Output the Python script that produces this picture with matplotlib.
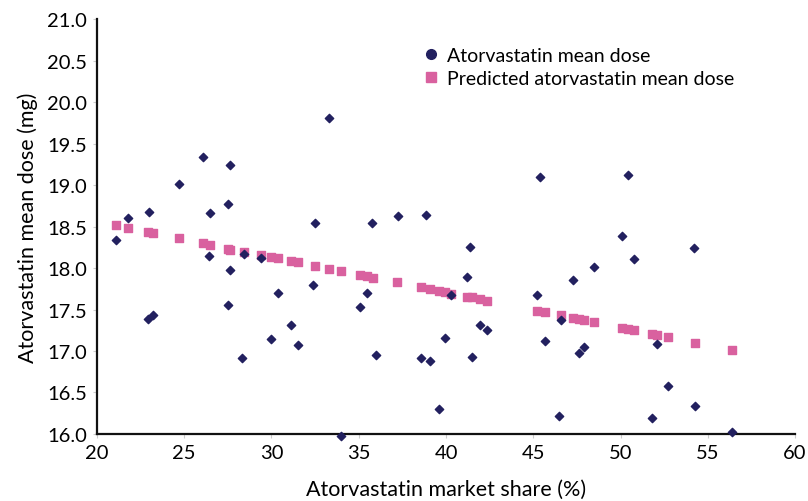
import matplotlib
matplotlib.use("Agg")
from matplotlib import pyplot as plt
from matplotlib.lines import Line2D

plt.rcParams['font.family'] = ['Lato', 'DejaVu Sans']

# observed atorvastatin mean dose vs market share
share = [21.1, 21.8, 22.9, 23.2, 23.0, 24.7, 26.1, 26.5, 26.4, 27.5,
         27.6, 27.6, 27.5, 28.4, 29.4, 30.0, 30.4, 31.1, 31.5, 32.4,
         32.5, 33.3, 28.3, 34.0, 35.06, 35.46, 35.75, 35.98, 37.24, 38.56,
         38.84, 39.07, 39.6, 39.93, 40.27, 41.2, 41.36, 41.48, 41.93, 42.34,
         45.2, 45.4, 45.7, 46.46, 46.6, 47.27, 47.6, 47.9, 48.5, 50.1,
         50.4, 50.76, 51.8, 52.1, 52.7, 54.2, 54.25, 56.4]
dose = [18.34, 18.60, 17.39, 17.43, 18.67, 19.01, 19.34, 18.66, 18.14, 18.77,
        19.24, 17.98, 17.55, 18.17, 18.12, 17.14, 17.70, 17.31, 17.07, 17.80,
        18.54, 19.81, 16.92, 15.98, 17.53, 17.70, 18.54, 16.95, 18.63, 16.92,
        18.64, 16.88, 16.30, 17.16, 17.67, 17.89, 18.25, 16.93, 17.31, 17.25,
        17.67, 19.10, 17.12, 16.22, 17.37, 17.86, 16.98, 17.05, 18.01, 18.39,
        19.12, 18.11, 16.19, 17.08, 16.58, 18.24, 16.34, 16.02]

# predicted mean dose
pred_share = [21.1, 21.8, 22.9, 23.2, 24.7, 26.1, 26.5, 27.5, 27.6, 28.4,
              29.4, 30.0, 30.4, 31.1, 31.5, 32.5, 33.3, 34.0, 35.06, 35.46,
              35.8, 37.2, 38.56, 39.07, 39.6, 39.93, 40.27, 41.2, 41.48, 41.93,
              42.34, 45.2, 45.7, 46.6, 47.3, 47.6, 47.9, 48.5, 50.06, 50.4,
              50.76, 51.8, 52.1, 52.7, 54.25, 56.4]
pred_dose = [18.52, 18.48, 18.43, 18.42, 18.36, 18.30, 18.28, 18.23, 18.22, 18.19,
             18.16, 18.13, 18.12, 18.08, 18.07, 18.02, 17.99, 17.96, 17.92, 17.90,
             17.88, 17.83, 17.77, 17.75, 17.72, 17.71, 17.69, 17.65, 17.65, 17.63,
             17.60, 17.48, 17.47, 17.43, 17.40, 17.39, 17.37, 17.35, 17.28, 17.27,
             17.25, 17.20, 17.19, 17.17, 17.10, 17.01]

navy = '#22205f'
pink = '#d9619f'

fig = plt.figure(figsize=(8.08, 5.02), dpi=100)
ax = fig.add_axes([0.12, 0.1335, 0.864, 0.8265])

ax.scatter(pred_share, pred_dose, marker='s', s=30, color=pink, zorder=2, clip_on=False)
ax.scatter(share, dose, marker='D', s=18, color=navy, zorder=3, clip_on=False)

ax.set_xlim(20, 60)
ax.set_ylim(16, 21)
ax.set_xticks(range(20, 61, 5))
ax.set_yticks([16 + 0.5 * i for i in range(11)])
ax.set_yticklabels(['%.1f' % (16 + 0.5 * i) for i in range(11)])

for s in ['top', 'right']:
    ax.spines[s].set_visible(False)
for s in ['left', 'bottom']:
    ax.spines[s].set_linewidth(1.6)
    ax.spines[s].set_color('#111111')
ax.tick_params(length=3, color='#cccccc', labelsize=14.5, pad=4)

ax.set_xlabel("Atorvastatin market share (%)", fontsize=15.5, labelpad=13)
ax.set_ylabel("Atorvastatin mean dose (mg)", fontsize=15.5, labelpad=7)

handles = [Line2D([], [], marker='o', color=navy, linestyle='', markersize=7),
           Line2D([], [], marker='s', color=pink, linestyle='', markersize=7)]
ax.legend(handles, ["Atorvastatin mean dose", "Predicted atorvastatin mean dose"],
          loc='upper left', bbox_to_anchor=(0.44, 0.975), frameon=False,
          fontsize=14, handletextpad=0.3, labelspacing=0.3, handlelength=1.0)

fig.savefig("out.png", dpi=100)
